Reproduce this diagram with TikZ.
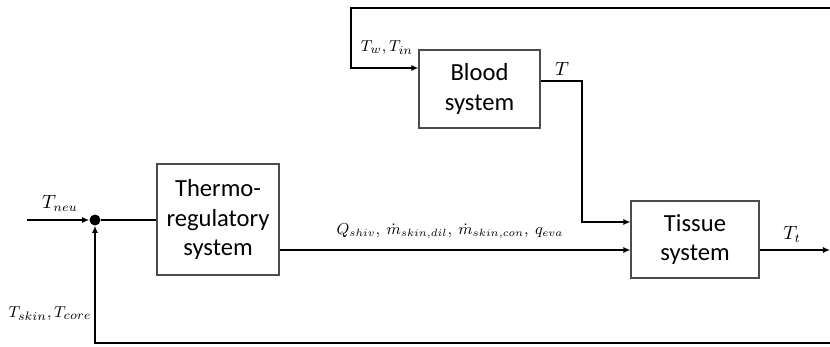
\documentclass[tikz,border=0pt]{standalone}
\usepackage{fontspec}
\setmainfont{Carlito}
\usetikzlibrary{arrows.meta,calc}
\begin{document}
\begin{tikzpicture}[
    x=0.02cm, y=-0.02cm,
    block/.style={rectangle, draw=black!70, line width=0.6pt, align=center,
        font=\fontsize{14}{17}\selectfont, inner sep=0pt},
    sumdot/.style={circle, fill=black, inner sep=0pt, minimum size=0.22cm},
    conn/.style={line width=1.1pt, -{Latex[length=4pt,width=3.5pt]}},
    wire/.style={line width=1.1pt},
    lbl/.style={font=\fontsize{10.5}{12}\selectfont, inner sep=0pt},
    lblpair/.style={lbl, font=\fontsize{9.5}{11}\selectfont}
]
\useasboundingbox (0,0) rectangle (830,347);
\node[block, minimum width=2.42cm, minimum height=1.56cm] (blood) at (479.5,89) {Blood\\system};
\node[block, minimum width=2.44cm, minimum height=2.22cm] (thermo) at (218,219.5) {Thermo-\\regulatory\\system};
\node[block, minimum width=2.56cm, minimum height=1.54cm] (tissue) at (695,239.5) {Tissue\\system};
\node[sumdot] (sum) at (95,220) {};

\coordinate (in) at (27,220);
\coordinate (topr) at (830,8);
\coordinate (topl) at (351,8);
\coordinate (tbend) at (582,81);
\coordinate (out) at (830,250);
\coordinate (botr) at (830,343);

\draw[conn] (in) -- (sum);
\draw[wire] (sum) -- (thermo.west |- sum);
\draw[conn] (thermo.east |- out) -- (tissue.west |- out);
\draw[conn] (tissue.east |- out) -- (out);
\draw[conn] (topr) -- (topl) -- (351,68) -- (blood.west |- 0,68);
\draw[conn] (blood.east |- tbend) -- (tbend) -- (582,222) -- (tissue.west |- 0,222);
\draw[conn] (botr) -- (sum |- botr) -- (sum.south);

\node[lbl] (tneu) at (60,203) {$T_{neu}$};
\node[lblpair] (tsc) at (50,314) {$T_{skin}, T_{core}$};
\node[lblpair] (twin) at (387,48) {$T_w, T_{in}$};
\node[lbl] (tb) at (562,69) {$T$};
\node[lblpair, font=\fontsize{9}{11}\selectfont] (qs) at (450,231) {$Q_{shiv},\ \dot{m}_{skin,dil},\ \dot{m}_{skin,con},\ q_{eva}$};
\node[lbl] (tt) at (792,234) {$T_t$};
\end{tikzpicture}
\end{document}
